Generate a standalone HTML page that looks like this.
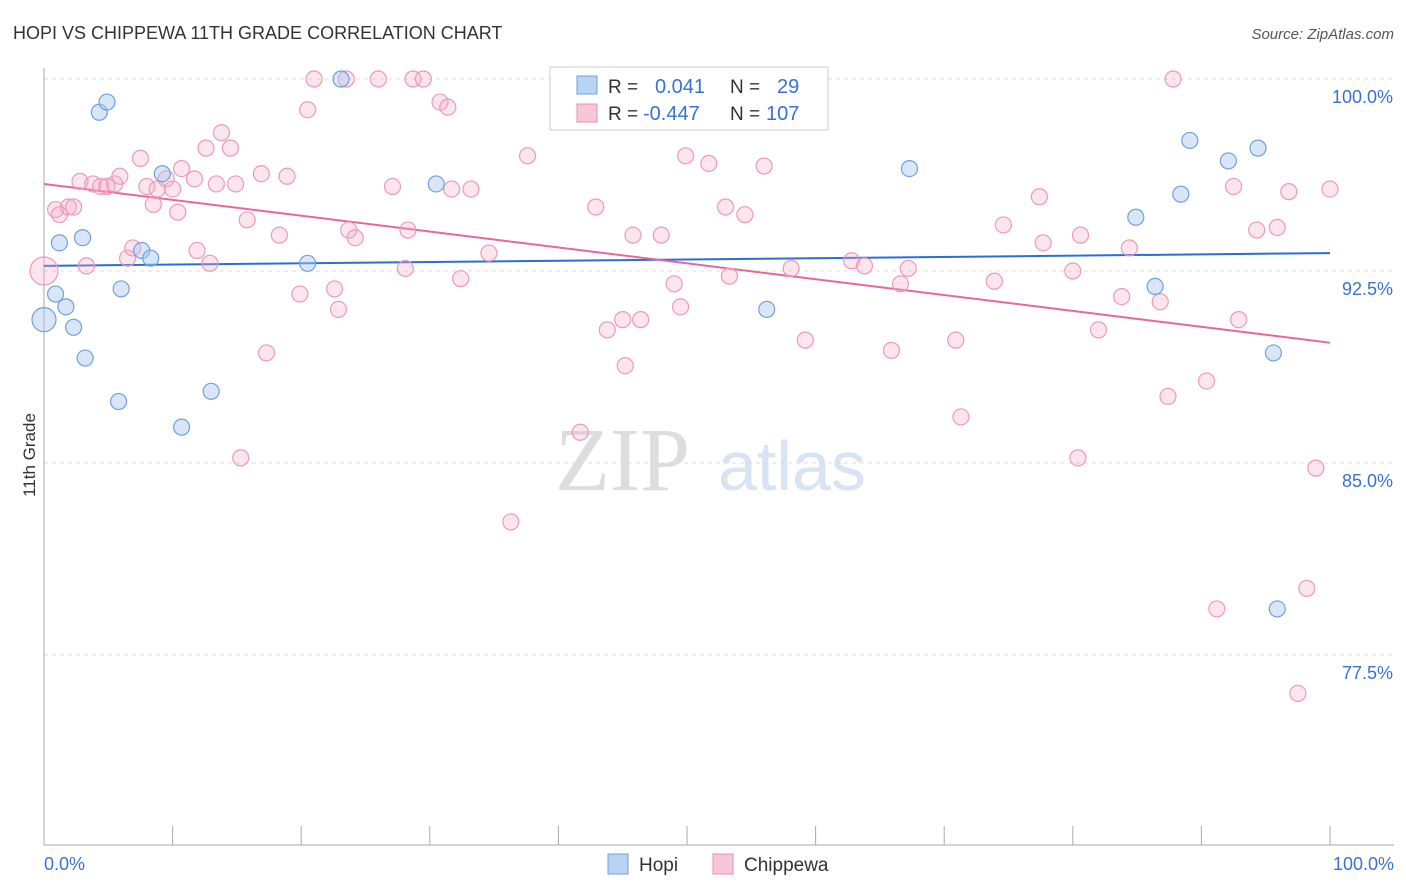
<!DOCTYPE html>
<html><head><meta charset="utf-8"><style>
body{margin:0;background:#fff;font-family:"Liberation Sans",sans-serif;}
svg{display:block}
</style></head><body>
<svg id="chart" width="1406" height="892">
<text x="13" y="39" font-size="18" fill="#333">HOPI VS CHIPPEWA 11TH GRADE CORRELATION CHART</text>
<text x="1394" y="39" font-size="15" fill="#555" font-style="italic" text-anchor="end">Source: ZipAtlas.com</text>
<text x="35" y="455" font-size="17" fill="#333" text-anchor="middle" transform="rotate(-90 35 455)">11th Grade</text>
<g><text x="555" y="490" font-size="90" fill="#ddd" font-family="Liberation Serif,serif">ZIP</text><text x="718" y="490" font-size="70" fill="#d6e4f5">atlas</text></g>
<g id="grid"></g><g id="xaxis"></g><g id="lines"></g><g id="pts"></g>
<g>
<rect x="550" y="67" width="278" height="63" fill="#fff" stroke="#ccc"/>
<rect x="577" y="76" width="20" height="18" fill="#b9d3f3" stroke="#6fa0e0"/>
<rect x="577" y="104" width="20" height="18" fill="#f8c6d6" stroke="#e890b0"/>
<text x="608" y="93" font-size="19" fill="#333">R = </text><text x="655" y="93" font-size="20" fill="#3a72d0">0.041</text>
<text x="730" y="93" font-size="19" fill="#333">N = </text><text x="777" y="93" font-size="20" fill="#3a72d0">29</text>
<text x="608" y="120" font-size="19" fill="#333">R = </text><text x="643" y="120" font-size="20" fill="#3a72d0">-0.447</text>
<text x="730" y="120" font-size="19" fill="#333">N = </text><text x="766" y="120" font-size="20" fill="#3a72d0">107</text>
</g>
<g>
<rect x="608" y="854" width="20" height="20" fill="#b9d3f3" stroke="#6fa0e0"/><text x="639" y="871" font-size="19" fill="#333">Hopi</text>
<rect x="713" y="854" width="20" height="20" fill="#f8c6d6" stroke="#e890b0"/><text x="744" y="871" font-size="19" fill="#333">Chippewa</text>
</g>
</svg>
<script>
const yTicks=[100,92.5,85,77.5];
const yTickLabels=["100.0%","92.5%","85.0%","77.5%"];
const hopiX=[0,0.9,1.2,1.7,2.3,3.0,3.2,4.3,4.9,5.8,6.0,7.6,8.3,9.2,10.7,13.0,20.5,23.1,30.5,56.2,67.3,84.9,86.4,88.4,89.1,92.1,94.4,95.6,95.9];
const hopiY=[90.6,91.6,93.6,91.1,90.3,93.8,89.1,98.7,99.1,87.4,91.8,93.3,93.0,96.3,86.4,87.8,92.8,100,95.9,91.0,96.5,94.6,91.9,95.5,97.6,96.8,97.3,89.3,79.3];
const chipX=[0,0.9,1.2,1.9,2.3,2.8,3.3,3.8,4.4,4.9,5.5,5.9,6.5,6.9,7.5,8.0,8.5,8.8,9.5,10.0,10.4,10.7,11.7,11.9,12.6,12.9,13.4,13.8,14.5,14.9,15.3,15.8,16.9,17.3,18.3,18.9,19.9,20.5,21.0,22.6,22.9,23.5,23.7,24.2,26.0,27.1,28.1,28.3,28.7,29.5,30.8,31.4,31.7,32.4,33.2,34.6,36.3,37.6,41.7,42.9,43.8,45.0,45.2,45.8,46.4,48.0,49.0,49.5,49.9,51.7,53.0,53.3,54.5,56.0,58.1,59.2,62.8,63.8,65.9,66.6,67.2,70.9,71.3,73.9,74.6,77.4,77.7,80.0,80.4,80.6,82.0,83.8,84.4,86.8,87.4,87.8,90.4,91.2,92.5,92.9,94.3,95.9,96.8,97.5,98.2,98.9,100];
const chipY=[92.5,94.9,94.7,95.0,95.0,96.0,92.7,95.9,95.8,95.8,95.9,96.2,93.0,93.4,96.9,95.8,95.1,95.7,96.1,95.7,94.8,96.5,96.1,93.3,97.3,92.8,95.9,97.9,97.3,95.9,85.2,94.5,96.3,89.3,93.9,96.2,91.6,98.8,100,91.8,91.0,100,94.1,93.8,100,95.8,92.6,94.1,100,100,99.1,98.9,95.7,92.2,95.7,93.2,82.7,97.0,86.2,95.0,90.2,90.6,88.8,93.9,90.6,93.9,92.0,91.1,97.0,96.7,95.0,92.3,94.7,96.6,92.6,89.8,92.9,92.7,89.4,92.0,92.6,89.8,86.8,92.1,94.3,95.4,93.6,92.5,85.2,93.9,90.2,91.5,93.4,91.3,87.6,100,88.2,79.3,95.8,90.6,94.1,94.2,95.6,76.0,80.1,84.8,95.7];
const hopiTrend=[92.7,93.2];
const chipTrend=[95.9,89.7];
const NS="http://www.w3.org/2000/svg";
const sx=v=>44+v*12.86, sy=v=>79+(100-v)*25.6;
function mk(tag,attrs,parent){const e=document.createElementNS(NS,tag);for(const k in attrs)e.setAttribute(k,attrs[k]);document.getElementById(parent).appendChild(e);return e;}
yTicks.forEach((t,i)=>{
 const l=mk('line',{x1:44,x2:1394,y1:sy(t),y2:sy(t),stroke:'#ddd','stroke-dasharray':'4,4'},'grid');
 
 
 const tx=mk('text',{x:1393,y:sy(t)+24,'font-size':18,fill:'#3a72d0','text-anchor':'end'},'grid');
 tx.textContent=yTickLabels[i];
 
 
});
const ax=mk('line',{x1:44,x2:44,y1:68,y2:845,stroke:'#aaa'},'xaxis');


const bx=mk('line',{x1:44,x2:1394,y1:845,y2:845,stroke:'#aaa'},'xaxis');


for(let i=0;i<=10;i++){const t=mk('line',{x1:sx(i*10),x2:sx(i*10),y1:826,y2:845,stroke:'#aaa'},'xaxis');
 
 }
const xl=mk('text',{x:44,y:870,'font-size':18,fill:'#3a72d0'},'xaxis');xl.textContent='0.0%';


const xr=mk('text',{x:1394,y:870,'font-size':18,fill:'#3a72d0','text-anchor':'end'},'xaxis');xr.textContent='100.0%';


chipX.forEach((x,i)=>{const c=mk('circle',{cx:sx(x),cy:sy(chipY[i]),r:i==0?14:8,fill:'rgba(245,170,195,0.3)',stroke:'#eb9ab8','stroke-width':1.2},'pts');
 
 });
hopiX.forEach((x,i)=>{const c=mk('circle',{cx:sx(x),cy:sy(hopiY[i]),r:i==0?12:8,fill:'rgba(168,200,240,0.45)',stroke:'#6fa0e0','stroke-width':1.2},'pts');
 
 });
const hl=mk('line',{x1:sx(0),x2:sx(100),y1:sy(hopiTrend[0]),y2:sy(hopiTrend[1]),stroke:'#2a6fd6','stroke-width':2},'lines');


const cl=mk('line',{x1:sx(0),x2:sx(100),y1:sy(chipTrend[0]),y2:sy(chipTrend[1]),stroke:'#e8679a','stroke-width':2},'lines');


</script>
</body></html>
